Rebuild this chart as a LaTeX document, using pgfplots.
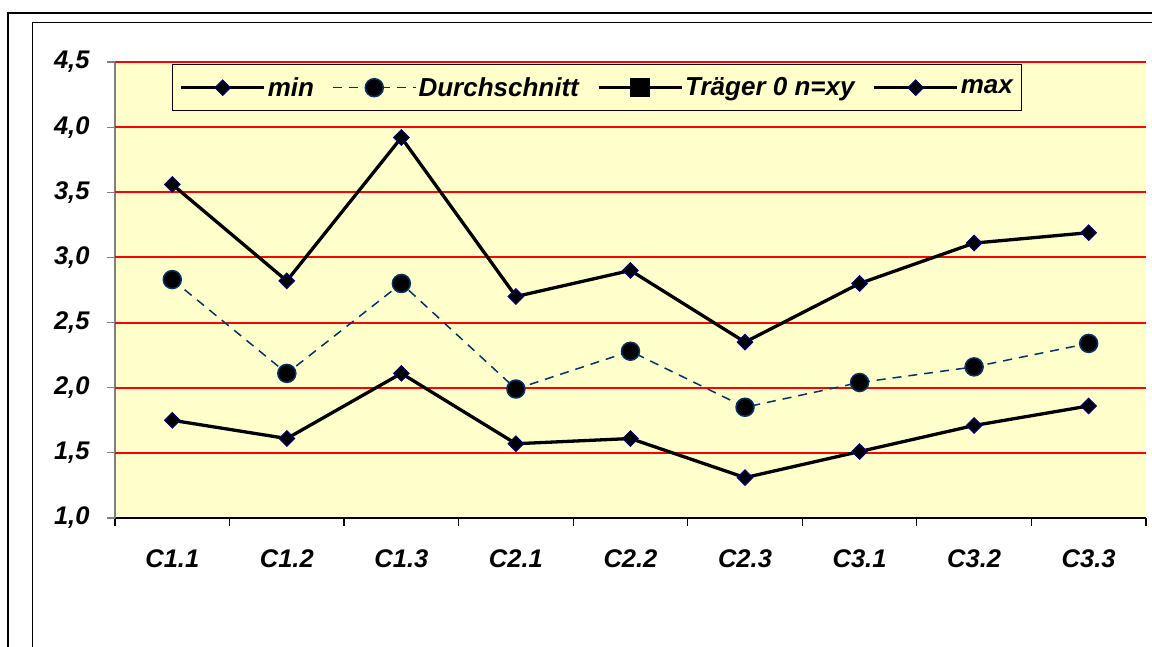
\documentclass[border=0pt]{standalone}
\usepackage{fontspec}
\setmainfont{Liberation Sans}
\usepackage{pgfplots}
\pgfplotsset{compat=1.18}
\definecolor{bgy}{HTML}{FFFFCC}
\definecolor{navy}{HTML}{000080}
\definecolor{avgc}{HTML}{003366}
\newcommand{\tfont}{\bfseries\itshape\fontsize{25.5}{28}\selectfont}
\newcommand{\lfont}{\bfseries\itshape\fontsize{26}{29}\selectfont}
\begin{document}
\begin{tikzpicture}[x=1pt,y=1pt]
\useasboundingbox (0,0) rectangle (1152,646);
\fill[white] (0,0) rectangle (1152,646);
\draw[line width=2.5pt] (8,-20) -- (8,633) -- (1170,633);
\draw[line width=1.1pt] (32.5,-20) -- (32.5,623.5) -- (1170,623.5);
\begin{axis}[
  at={(115pt,128pt)}, anchor=south west, scale only axis,
  width=1031pt, height=456pt,
  xmin=-0.5, xmax=8.5, ymin=1, ymax=4.5,
  axis background/.style={fill=bgy},
  axis x line*=bottom, axis y line*=left,
  x axis line style={black, line width=1.5pt},
  y axis line style={gray, line width=1.3pt},
  tick align=outside, major tick length=8pt,
  ytick={1,1.5,2,2.5,3,3.5,4,4.5},
  ytick style={gray, line width=1.2pt},
  xtick={-0.5,0.5,1.5,2.5,3.5,4.5,5.5,6.5,7.5,8.5},
  xticklabels={},
  xtick style={black, line width=1.2pt},
  extra x ticks={0,1,2,3,4,5,6,7,8},
  extra x tick labels={C1.1,C1.2,C1.3,C2.1,C2.2,C2.3,C3.1,C3.2,C3.3},
  extra x tick style={major tick length=0pt, tick style={draw=none}, grid=none},
  ticklabel style={font=\tfont},
  xticklabel style={yshift=-28pt},
  yticklabel style={xshift=-14pt},
  /pgf/number format/.cd, use comma, fixed, fixed zerofill, precision=1, assume math mode=true,
  /pgfplots/.cd,
  legend style={at={(0.0553,0.9956)}, anchor=north west, fill=bgy, draw=black, line width=1pt,
    legend columns=-1, font=\lfont, inner ysep=11pt, inner xsep=7pt,
    /tikz/every even column/.append style={column sep=16pt}},
  legend image code/.code={\draw[mark repeat=2,mark phase=2,#1] plot coordinates {(0pt,0pt) (41.5pt,0pt) (83pt,0pt)};},
]
% horizontal grid lines
\addplot[red, line width=2pt, forget plot] coordinates {(-0.5,1.5) (8.5,1.5)};
\addplot[red, line width=2pt, forget plot] coordinates {(-0.5,2.0) (8.5,2.0)};
\addplot[red, line width=2pt, forget plot] coordinates {(-0.5,2.5) (8.5,2.5)};
\addplot[red, line width=2pt, forget plot] coordinates {(-0.5,3.0) (8.5,3.0)};
\addplot[red, line width=2pt, forget plot] coordinates {(-0.5,3.5) (8.5,3.5)};
\addplot[red, line width=2pt, forget plot] coordinates {(-0.5,4.0) (8.5,4.0)};
\addplot[red, line width=2pt, forget plot] coordinates {(-0.5,4.5) (8.5,4.5)};
\addplot[black, line width=3.3pt, mark=square*, mark size=5.5pt,
  mark options={rotate=45, fill=black, draw=navy, line width=1pt, solid}]
  coordinates {(0,1.75) (1,1.61) (2,2.11) (3,1.57) (4,1.61) (5,1.31) (6,1.51) (7,1.71) (8,1.86)};
\addlegendentry{min}
\addplot[avgc, dash pattern=on 9pt off 7pt, line width=1.5pt, mark=*, mark size=9pt,
  mark options={solid, fill=black, draw=avgc, line width=1.5pt}]
  coordinates {(0,2.83) (1,2.11) (2,2.80) (3,1.99) (4,2.28) (5,1.85) (6,2.04) (7,2.16) (8,2.34)};
\addlegendentry{Durchschnitt}
\addlegendimage{black, line width=3.3pt, mark=square*, mark size=8pt, mark options={fill=black, solid}}
\addlegendentry{Träger 0 n=xy}
\addplot[black, line width=3.3pt, mark=square*, mark size=5.5pt,
  mark options={rotate=45, fill=black, draw=navy, line width=1pt, solid}]
  coordinates {(0,3.56) (1,2.82) (2,3.92) (3,2.70) (4,2.90) (5,2.35) (6,2.80) (7,3.11) (8,3.19)};
\addlegendentry{max}
\end{axis}
\end{tikzpicture}
\end{document}
